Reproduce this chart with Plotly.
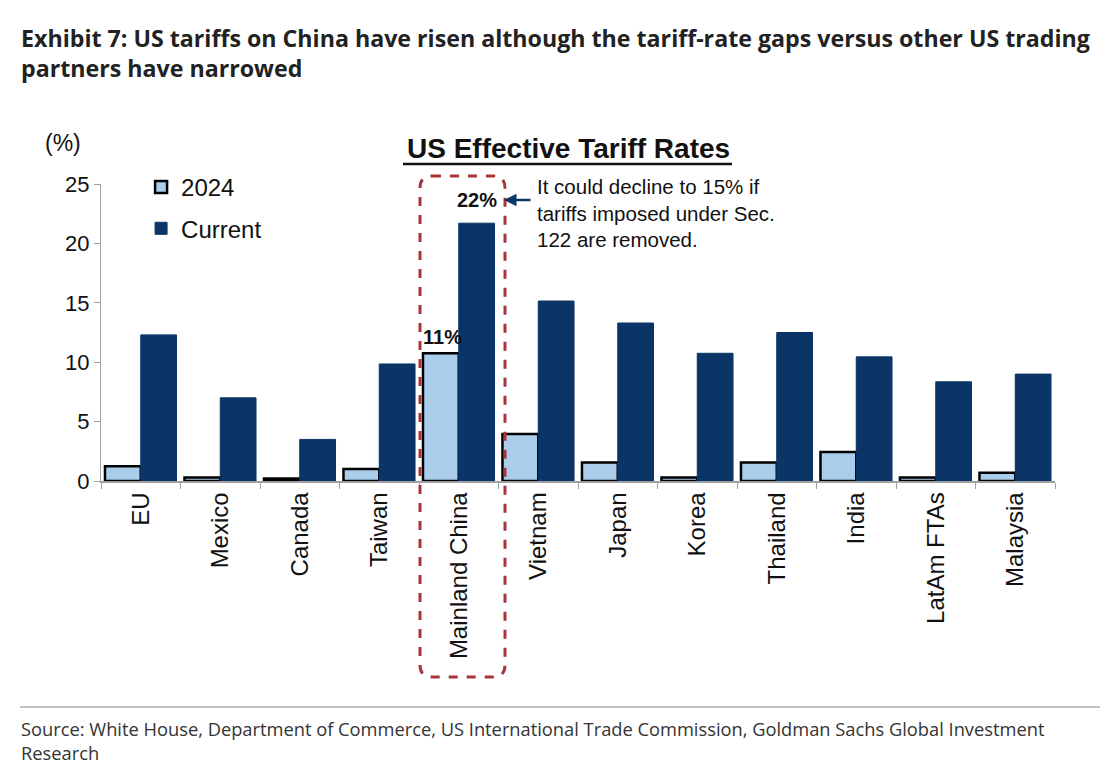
import plotly.graph_objects as go

categories = ["EU", "Mexico", "Canada", "Taiwan", "Mainland China", "Vietnam",
              "Japan", "Korea", "Thailand", "India", "LatAm FTAs", "Malaysia"]
rate_2024 = [1.25, 0.3, 0.2, 1.0, 10.75, 3.95, 1.55, 0.3, 1.55, 2.45, 0.3, 0.7]
rate_current = [12.3, 7.0, 3.5, 9.85, 21.7, 15.15, 13.3, 10.75, 12.5, 10.45, 8.35, 9.0]
yticks = [0, 5, 10, 15, 20, 25]

NAVY = "#0b3566"
LIGHT = "#aacdec"
RED = "#a8353a"
FONT = "Liberation Sans, Arial, sans-serif"

fig = go.Figure()
fig.add_trace(go.Bar(name="2024", x=categories, y=rate_2024, legendgroup="a",
                     marker=dict(color=LIGHT, line=dict(color="black", width=2.5))))
fig.add_trace(go.Bar(name="Current", x=categories, y=rate_current, legendgroup="b",
                     marker=dict(color=NAVY, line=dict(color=NAVY, width=1))))

fig.update_layout(
    width=1100, height=772,
    margin=dict(l=101, r=45, t=184, b=291),
    paper_bgcolor="white", plot_bgcolor="white",
    barmode="group", bargap=0.1, bargroupgap=0.0,
    font=dict(family=FONT, color="#111", size=19),
    showlegend=True,
    legend=dict(x=0.042, y=1.064, xanchor="left", yanchor="top",
                font=dict(size=24, family=FONT, color="#111"),
                bgcolor="rgba(0,0,0,0)", itemwidth=30, tracegroupgap=7,
                traceorder="grouped"),
)
fig.update_yaxes(range=[0, 25], tickvals=yticks, showgrid=False, zeroline=False,
                 showline=True, linecolor="#a0a0a0", linewidth=1,
                 ticks="outside", ticklen=6, tickcolor="#a0a0a0",
                 tickfont=dict(size=22, family=FONT, color="#111"))
fig.update_xaxes(showgrid=False, showline=True, linecolor="#a0a0a0", linewidth=1.5,
                 ticks="outside", ticklen=6, tickcolor="#a0a0a0", tickson="boundaries",
                 tickangle=-90, tickfont=dict(size=24, family=FONT, color="#111"))

# Chart title with underline
fig.add_annotation(text="<b>US Effective Tariff Rates</b>", xref="paper", yref="paper",
                   x=(568 - 101) / 954, y=(481 - 148) / 297, xanchor="center", yanchor="middle",
                   showarrow=False, font=dict(size=28, family=FONT, color="#111"))
fig.add_shape(type="line", xref="paper", yref="paper",
              x0=(403 - 101) / 954, x1=(732 - 101) / 954,
              y0=(481 - 164) / 297, y1=(481 - 164) / 297,
              line=dict(color="#111", width=2.5))

# (%)
fig.add_annotation(text="(%)", xref="paper", yref="paper",
                   x=(63 - 101) / 954, y=(481 - 143) / 297, xanchor="center", yanchor="middle",
                   showarrow=False, font=dict(size=23, family=FONT, color="#111"))

# Value labels
fig.add_annotation(text="<b>22%</b>", x="Mainland China", y=rate_current[4],
                   xshift=18, yshift=23, showarrow=False,
                   font=dict(size=20, family=FONT, color="#111"))
fig.add_annotation(text="<b>11%</b>", x="Mainland China", y=rate_2024[4],
                   xshift=-16, yshift=16, showarrow=False,
                   font=dict(size=20, family=FONT, color="#111"))

# Side note with arrow
fig.add_annotation(text="It could decline to 15% if<br>tariffs imposed under Sec.<br>122 are removed.",
                   xref="paper", yref="paper", x=(535 - 101) / 954, y=(481 - 173) / 297,
                   xanchor="left", yanchor="top", align="left", showarrow=False,
                   font=dict(size=20.5, family=FONT, color="#111"))
fig.add_annotation(xref="paper", yref="paper",
                   x=(504 - 101) / 954, y=(481 - 200) / 297,
                   ax=28, ay=0,
                   text="", showarrow=True, arrowhead=2, arrowsize=1, arrowwidth=2.5,
                   arrowcolor=NAVY)

# Red dashed rounded box
x0, x1 = (420 - 101) / 954, (505 - 101) / 954
y0, y1 = (481 - 677) / 297, (481 - 176) / 297
rx, ry = 12 / 954, 12 / 297
path = (f"M {x0 + rx},{y1} L {x1 - rx},{y1} Q {x1},{y1} {x1},{y1 - ry} "
        f"L {x1},{y0 + ry} Q {x1},{y0} {x1 - rx},{y0} "
        f"L {x0 + rx},{y0} Q {x0},{y0} {x0},{y0 + ry} "
        f"L {x0},{y1 - ry} Q {x0},{y1} {x0 + rx},{y1} Z")
fig.add_shape(type="path", xref="paper", yref="paper", path=path,
              line=dict(color=RED, width=3, dash="dash"))

# Header
fig.add_annotation(text="<b>Exhibit 7: US tariffs on China have risen although the tariff-rate gaps versus other US trading<br>partners have narrowed</b>",
                   xref="paper", yref="paper", x=(19 - 101) / 954, y=(481 - 20) / 297,
                   xanchor="left", yanchor="top", align="left", showarrow=False,
                   font=dict(size=23.2, family="Open Sans, sans-serif", color="#222"))

# Footer line and source
fig.add_shape(type="line", xref="paper", yref="paper",
              x0=(20 - 101) / 954, x1=(1100 - 101) / 954,
              y0=(481 - 707) / 297, y1=(481 - 707) / 297,
              line=dict(color="#888", width=1.2))
fig.add_annotation(text="Source: White House, Department of Commerce, US International Trade Commission, Goldman Sachs Global Investment<br>Research",
                   xref="paper", yref="paper", x=(19 - 101) / 954, y=(481 - 714) / 297,
                   xanchor="left", yanchor="top", align="left", showarrow=False,
                   font=dict(size=18.3, family="Open Sans, sans-serif", color="#333"))

fig.write_html("out.html")
